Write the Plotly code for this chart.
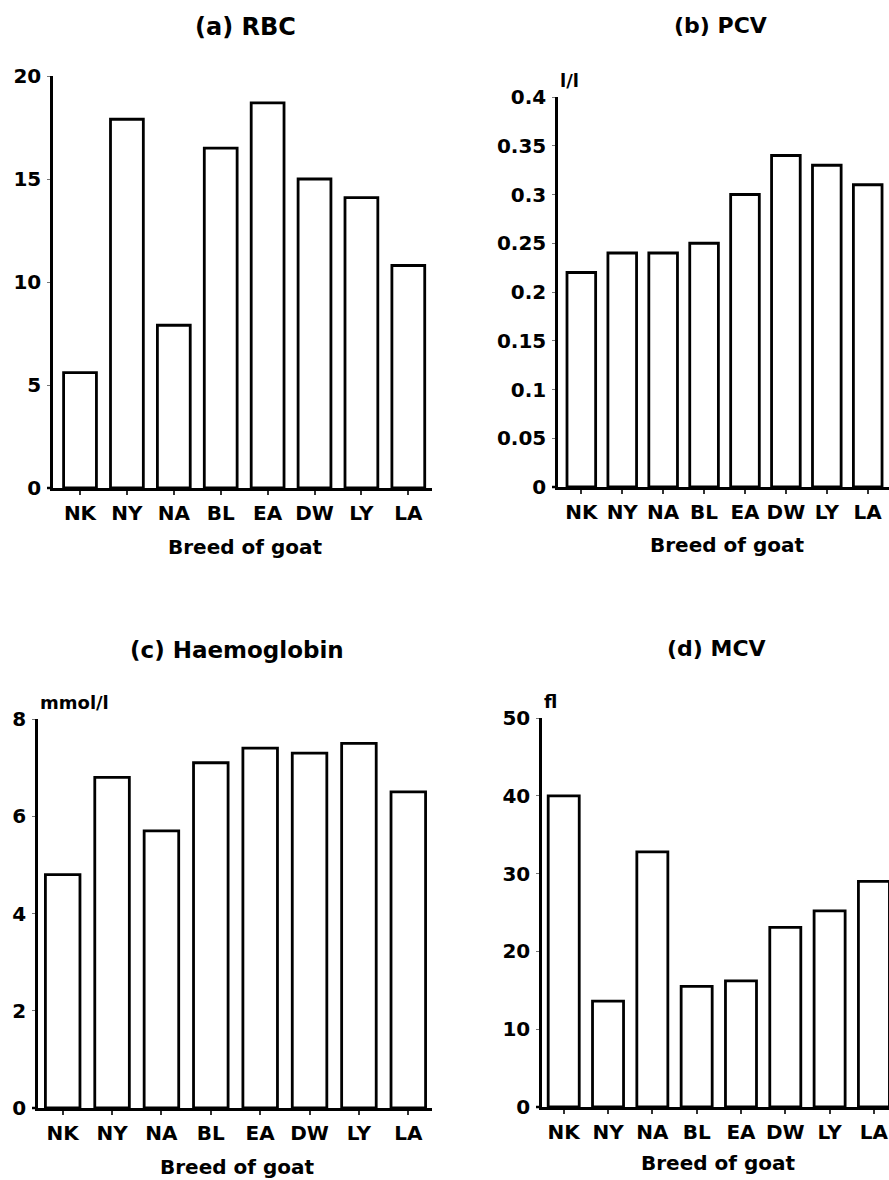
import plotly.graph_objects as go

# Breeds of goat shown on every panel
breeds = ["NK", "NY", "NA", "BL", "EA", "DW", "LY", "LA"]

# Haematological values per breed
rbc = [5.6, 17.9, 7.9, 16.5, 18.7, 15.0, 14.1, 10.8]
pcv = [0.22, 0.24, 0.24, 0.25, 0.30, 0.34, 0.33, 0.31]
haemoglobin = [4.8, 6.8, 5.7, 7.1, 7.4, 7.3, 7.5, 6.5]
mcv = [40.0, 13.6, 32.8, 15.5, 16.2, 23.1, 25.2, 29.0]

# Tick values for each value axis
rbc_ticks = [0, 5, 10, 15, 20]
rbc_ticktext = ["0", "5", "10", "15", "20"]
pcv_ticks = [0, 0.05, 0.1, 0.15, 0.2, 0.25, 0.3, 0.35, 0.4]
pcv_ticktext = ["0", "0.05", "0.1", "0.15", "0.2", "0.25", "0.3", "0.35", "0.4"]
hb_ticks = [0, 2, 4, 6, 8]
hb_ticktext = ["0", "2", "4", "6", "8"]
mcv_ticks = [0, 10, 20, 30, 40, 50]
mcv_ticktext = ["0", "10", "20", "30", "40", "50"]

W, H = 889, 1180
FONT = "DejaVu Sans"


def px_x(x):
    return x / W


def px_y(y):
    return 1 - y / H


panels = [
    # values, ticks, ticktext, ymax, (left, right, bottom, top) pixel box, xrange,
    # title, title centre, title size, unit label, x-title centre
    dict(vals=rbc, tv=rbc_ticks, tt=rbc_ticktext, ymax=20,
         box=(53, 432, 488, 76), xr=[-0.576, 7.505],
         title="(a) RBC", tpos=(245, 27), tsize=24, unit=None, xt=(245, 547)),
    dict(vals=pcv, tv=pcv_ticks, tt=pcv_ticktext, ymax=0.4,
         box=(558, 889, 487, 97), xr=[-0.57, 7.52],
         title="(b) PCV", tpos=(720, 26), tsize=22, unit="l/l", xt=(727, 545)),
    dict(vals=haemoglobin, tv=hb_ticks, tt=hb_ticktext, ymax=8,
         box=(38, 432, 1108, 719), xr=[-0.5, 7.48],
         title="(c) Haemoglobin", tpos=(237, 650), tsize=23, unit="mmol/l", xt=(237, 1167)),
    dict(vals=mcv, tv=mcv_ticks, tt=mcv_ticktext, ymax=50,
         box=(542, 889, 1107, 718), xr=[-0.49, 7.34],
         title="(d) MCV", tpos=(716, 648), tsize=22, unit="fl", xt=(718, 1163)),
]

fig = go.Figure()
annotations = []
shapes = []
layout = {}

for i, p in enumerate(panels, start=1):
    xa = "x" if i == 1 else f"x{i}"
    ya = "y" if i == 1 else f"y{i}"
    left, right, bottom, top = p["box"]

    fig.add_trace(go.Bar(
        x=breeds, y=p["vals"], xaxis=xa, yaxis=ya, width=0.7,
        marker=dict(color="white", line=dict(color="black", width=2.8)),
        showlegend=False, hoverinfo="x+y",
    ))

    xkey = "xaxis" if i == 1 else f"xaxis{i}"
    ykey = "yaxis" if i == 1 else f"yaxis{i}"
    layout[xkey] = dict(
        domain=[px_x(left), min(1.0, px_x(right))], anchor=ya, automargin=False,
        type="category", categoryorder="array", categoryarray=breeds,
        range=p["xr"], showline=True, linecolor="black", linewidth=2.5,
        ticks="outside", ticklen=4, tickwidth=1.5, tickcolor="#333",
        showgrid=False, zeroline=False, ticklabelstandoff=1,
        tickfont=dict(family=FONT, size=20, color="black", weight="bold"),
    )
    layout[ykey] = dict(
        domain=[px_y(bottom), px_y(top)], anchor=xa, automargin=False,
        range=[0, p["ymax"]], tickvals=p["tv"], ticktext=p["tt"],
        showline=True, linecolor="black", linewidth=2.5,
        ticks="outside", ticklen=3, tickwidth=1, tickcolor="#777",
        showgrid=False, zeroline=False, ticklabelstandoff=2,
        tickfont=dict(family=FONT, size=20, color="black", weight="bold"),
    )

    # baseline runs a few pixels past the value axis on the left
    shapes.append(dict(
        type="line", xref="paper", yref="paper",
        x0=px_x(left - 6), x1=px_x(left), y0=px_y(bottom), y1=px_y(bottom),
        line=dict(color="black", width=2.5),
    ))

    annotations.append(dict(
        text=p["title"], xref="paper", yref="paper",
        x=px_x(p["tpos"][0]), y=px_y(p["tpos"][1]),
        xanchor="center", yanchor="middle", showarrow=False,
        font=dict(family=FONT, size=p["tsize"], color="black", weight="bold"),
    ))
    annotations.append(dict(
        text="Breed of goat", xref="paper", yref="paper",
        x=px_x(p["xt"][0]), y=px_y(p["xt"][1]),
        xanchor="center", yanchor="middle", showarrow=False,
        font=dict(family=FONT, size=20, color="black", weight="bold"),
    ))
    if p["unit"]:
        annotations.append(dict(
            text=p["unit"], xref="paper", yref="paper",
            x=px_x(left), y=px_y(top - 4),
            xanchor="left", yanchor="bottom", showarrow=False,
            font=dict(family=FONT, size=18, color="black", weight="bold"),
        ))

fig.update_layout(
    width=W, height=H,
    margin=dict(l=0, r=0, t=0, b=0, autoexpand=False),
    paper_bgcolor="white", plot_bgcolor="white",
    annotations=annotations, shapes=shapes,
    **layout,
)

fig.write_html("out.html")
